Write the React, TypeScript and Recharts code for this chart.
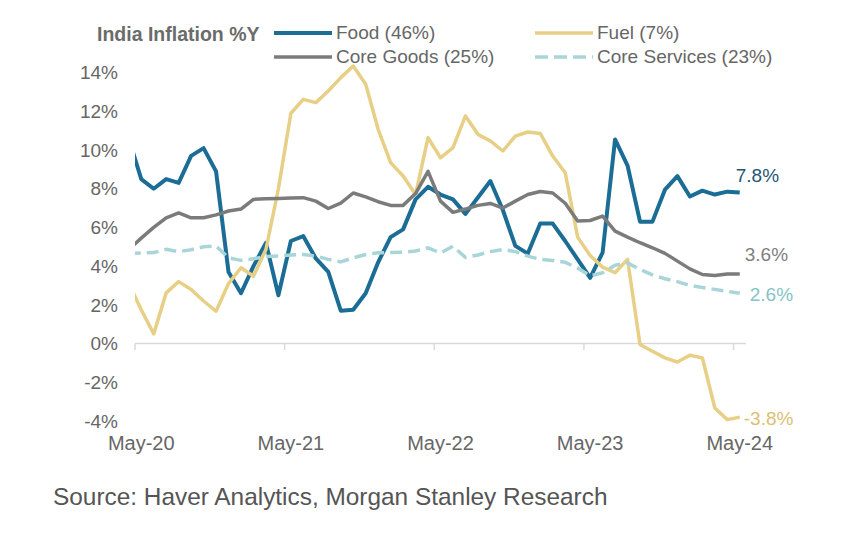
import React from 'react';
import { LineChart, Line, XAxis, YAxis, ReferenceLine } from 'recharts';

// monthly, Apr-20 is only there so the first segment runs into the left edge
const months = [
  'Apr-20', 'May-20', 'Jun-20', 'Jul-20', 'Aug-20', 'Sep-20', 'Oct-20', 'Nov-20', 'Dec-20',
  'Jan-21', 'Feb-21', 'Mar-21', 'Apr-21', 'May-21', 'Jun-21', 'Jul-21', 'Aug-21', 'Sep-21', 'Oct-21', 'Nov-21', 'Dec-21',
  'Jan-22', 'Feb-22', 'Mar-22', 'Apr-22', 'May-22', 'Jun-22', 'Jul-22', 'Aug-22', 'Sep-22', 'Oct-22', 'Nov-22', 'Dec-22',
  'Jan-23', 'Feb-23', 'Mar-23', 'Apr-23', 'May-23', 'Jun-23', 'Jul-23', 'Aug-23', 'Sep-23', 'Oct-23', 'Nov-23', 'Dec-23',
  'Jan-24', 'Feb-24', 'Mar-24', 'Apr-24', 'May-24',
];

const food = [
  10.6, 8.5, 8.0, 8.5, 8.3, 9.7, 10.1, 8.9, 3.7,
  2.6, 4.0, 5.2, 2.5, 5.3, 5.55, 4.4, 3.7, 1.7, 1.75, 2.6, 4.2,
  5.5, 5.9, 7.45, 8.1, 7.7, 7.45, 6.7, 7.55, 8.4, 6.9, 5.05, 4.65,
  6.2, 6.2, 5.3, 4.35, 3.4, 4.7, 10.55, 9.2, 6.3, 6.3, 7.95, 8.65,
  7.6, 7.9, 7.7, 7.85, 7.8,
];

const fuel = [
  3.1, 1.75, 0.5, 2.62, 3.2, 2.79, 2.2, 1.67, 3.1,
  3.92, 3.48, 4.86, 8.0, 11.9, 12.62, 12.45, 13.05, 13.74, 14.34, 13.4, 11.07,
  9.35, 8.66, 7.7, 10.64, 9.6, 10.12, 11.76, 10.81, 10.47, 9.95, 10.72, 10.93,
  10.86, 9.69, 8.83, 5.5, 4.55, 3.95, 3.66, 4.35, -0.05, -0.4, -0.74, -0.95,
  -0.6, -0.74, -3.33, -3.93, -3.8,
];

const coreGoods = [
  4.85, 5.45, 6.0, 6.5, 6.75, 6.5, 6.5, 6.65, 6.85,
  6.95, 7.45, 7.48, 7.5, 7.52, 7.54, 7.36, 6.98, 7.26, 7.78, 7.58, 7.33,
  7.14, 7.14, 7.75, 8.9, 7.36, 6.78, 6.95, 7.14, 7.24, 7.0, 7.36, 7.7,
  7.86, 7.78, 7.25, 6.33, 6.36, 6.59, 5.81, 5.5, 5.21, 4.95, 4.66, 4.26,
  3.86, 3.57, 3.52, 3.6, 3.6,
];

const coreServices = [
  4.65, 4.68, 4.7, 4.87, 4.75, 4.85, 5.0, 5.05, 4.43,
  4.3, 4.38, 4.5, 4.52, 4.58, 4.6, 4.52, 4.35, 4.22, 4.43, 4.6, 4.69,
  4.7, 4.72, 4.78, 4.95, 4.68, 5.03, 4.45, 4.58, 4.75, 4.86, 4.75, 4.52,
  4.35, 4.29, 4.2, 3.9, 3.5, 3.66, 4.05, 4.17, 3.83, 3.55, 3.35, 3.2,
  3.0, 2.9, 2.8, 2.7, 2.6,
];

const xTickLabels = ['May-20', 'May-21', 'May-22', 'May-23', 'May-24'];
const yTicks = [-4, -2, 0, 2, 4, 6, 8, 10, 12, 14];

// t = months since May-20
const rows = months.map((m, i) => ({
  month: m,
  t: i - 1,
  food: food[i],
  fuel: fuel[i],
  coreGoods: coreGoods[i],
  coreServices: coreServices[i],
}));

const labelTicks = xTickLabels.map((l) => months.indexOf(l) - 1);
const tickMarks = labelTicks.map((t) => t - 0.5);

const FONT = '"Liberation Sans", Arial, sans-serif';
const TEXT = '#666';

const series = [
  { key: 'food', name: 'Food (46%)', color: '#1b6d96', width: 4, dash: undefined, labelColor: '#1f5676', dx: -4, dy: -17 },
  { key: 'fuel', name: 'Fuel (7%)', color: '#e8cf86', width: 3.5, dash: undefined, labelColor: '#d8c173', dx: 4, dy: 1 },
  { key: 'coreGoods', name: 'Core Goods (25%)', color: '#7b7b7b', width: 3.5, dash: undefined, labelColor: '#808080', dx: 5, dy: -19 },
  { key: 'coreServices', name: 'Core Services (23%)', color: '#a9d5d8', width: 3.5, dash: '12 6', labelColor: '#86c3c7', dx: 10, dy: 1 },
];

const legendPos: Record<string, { left: number; top: number }> = {
  food: { left: 266, top: 13 },
  fuel: { left: 527, top: 13 },
  coreGoods: { left: 266, top: 37 },
  coreServices: { left: 527, top: 37 },
};

const endLabel = (text: string, color: string, dx: number, dy: number) => (props: any) => {
  const { x, y, index } = props;
  if (index !== rows.length - 1) return null;
  return (
    <text x={x + dx} y={y + dy} fill={color} fontSize={19} fontFamily={FONT} dominantBaseline="central">
      {text}
    </text>
  );
};

const lastOf = (arr: number[]) => `${arr[arr.length - 1].toFixed(1)}%`;
const values: Record<string, number[]> = { food, fuel, coreGoods, coreServices };

export default function App() {
  return (
    <div style={{ position: 'relative', width: 836, height: 532, background: '#fff', fontFamily: FONT }}>
      <div style={{ position: 'absolute', left: 89, top: 14, lineHeight: '24px', fontSize: 19.5, fontWeight: 'bold', color: '#6b6b6b' }}>
        India Inflation %Y
      </div>
      {series.map((s) => (
        <div
          key={s.key}
          style={{ position: 'absolute', left: legendPos[s.key].left, top: legendPos[s.key].top, height: 24, display: 'flex', alignItems: 'center', whiteSpace: 'nowrap' }}
        >
          <svg width={58} height={24}>
            <line x1={0} y1={12} x2={58} y2={12} stroke={s.color} strokeWidth={s.width} strokeDasharray={s.dash ? '13 6' : undefined} />
          </svg>
          <span style={{ marginLeft: 4, fontSize: 19, lineHeight: '24px', color: TEXT }}>{s.name}</span>
        </div>
      ))}

      <LineChart width={836} height={532} data={rows} margin={{ top: 53, right: 98, bottom: 79, left: 0 }}>
        <XAxis
          dataKey="t"
          type="number"
          domain={[-0.5, 48.5]}
          allowDataOverflow
          ticks={labelTicks}
          interval={0}
          tickFormatter={(v: number) => months[v + 1]}
          axisLine={false}
          tickLine={false}
          tick={{ fill: TEXT, fontSize: 20, fontFamily: FONT }}
          tickMargin={9}
          height={40}
        />
        <YAxis
          type="number"
          domain={[-4, 14.6]}
          ticks={yTicks}
          interval={0}
          tickFormatter={(v: number) => `${v}%`}
          axisLine={false}
          tickLine={false}
          tick={{ fill: TEXT, fontSize: 19, fontFamily: FONT }}
          width={127}
          tickMargin={11}
        />
        <ReferenceLine y={0} stroke="#d9d9d9" strokeWidth={1.5} />
        {tickMarks.map((t) => (
          <ReferenceLine key={t} segment={[{ x: t, y: 0 }, { x: t, y: -0.33 }]} stroke="#d9d9d9" strokeWidth={1.5} />
        ))}
        {series.map((s) => (
          <Line
            key={s.key}
            type="linear"
            dataKey={s.key}
            name={s.name}
            stroke={s.color}
            strokeWidth={s.width}
            strokeDasharray={s.dash}
            strokeLinejoin="round"
            dot={false}
            activeDot={false}
            isAnimationActive={false}
            label={endLabel(lastOf(values[s.key]), s.labelColor, s.dx, s.dy)}
          />
        ))}
      </LineChart>

      <div style={{ position: 'absolute', left: 45, top: 474, lineHeight: '30px', fontSize: 24.4, color: '#555' }}>
        Source: Haver Analytics, Morgan Stanley Research
      </div>
    </div>
  );
}
